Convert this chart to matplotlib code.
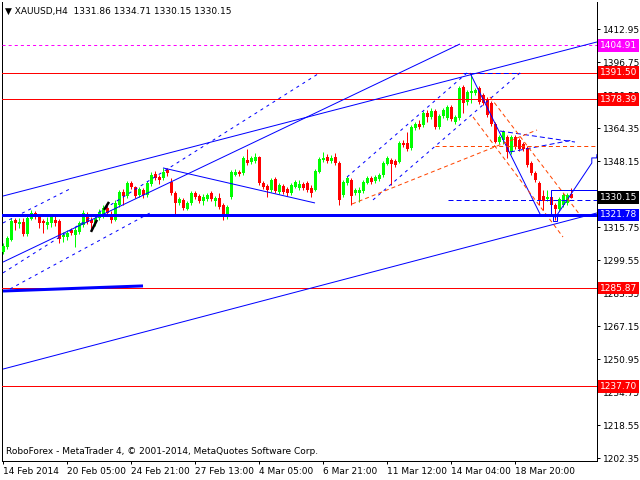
import matplotlib
matplotlib.use("Agg")
import matplotlib.pyplot as plt
from matplotlib.patches import Rectangle
from matplotlib.transforms import blended_transform_factory

# ---------------------------------------------------------------------------
# Data (XAUUSD H4 candles, bar index 0..142)
# ---------------------------------------------------------------------------
opens = [
    1303.5, 1306.0, 1309.4, 1319.2, 1317.5, 1318.3, 1312.4, 1319.7, 1322.7, 1320.7,
    1318.7, 1316.8, 1317.8, 1319.2, 1318.7, 1310.9, 1310.9, 1314.3, 1311.9, 1313.3,
    1316.8, 1322.2, 1319.2, 1317.8, 1320.2, 1321.7, 1325.1, 1322.2, 1319.2, 1326.6,
    1333.0, 1331.0, 1337.4, 1335.4, 1331.5, 1334.0, 1331.5, 1336.9, 1341.8, 1340.3,
    1339.9, 1343.8, 1337.9, 1332.5, 1327.6, 1329.1, 1324.6, 1327.6, 1332.5, 1331.0,
    1328.6, 1329.6, 1332.5, 1328.6, 1330.0, 1326.6, 1320.7, 1330.5, 1341.3, 1342.8,
    1342.3, 1348.7, 1347.7, 1348.2, 1350.1, 1337.4, 1335.9, 1334.0, 1339.4, 1333.0,
    1335.9, 1334.5, 1332.5, 1335.4, 1334.9, 1336.9, 1337.4, 1334.9, 1334.0, 1342.8,
    1348.7, 1350.1, 1348.2, 1350.1, 1347.2, 1331.5, 1337.4, 1338.9, 1332.5, 1332.5,
    1333.5, 1337.4, 1339.9, 1338.4, 1339.4, 1341.3, 1346.7, 1348.7, 1348.2, 1347.7,
    1357.0, 1357.0, 1354.6, 1364.4, 1366.4, 1365.9, 1371.7, 1369.8, 1372.7, 1364.9,
    1370.3, 1369.3, 1374.7, 1367.3, 1369.3, 1384.5, 1377.1, 1381.5, 1381.5, 1384.0,
    1380.6, 1378.6, 1376.6, 1366.4, 1357.5, 1358.5, 1360.0, 1352.6, 1360.0, 1358.5,
    1356.5, 1354.6, 1347.2, 1342.3, 1337.4, 1331.0, 1329.6, 1330.5, 1326.6, 1324.6,
    1326.6, 1327.6, 1331.86,
]
highs = [
    1308.0, 1311.4, 1320.2, 1320.2, 1320.2, 1320.2, 1322.2, 1324.2, 1323.7, 1321.7,
    1319.7, 1320.7, 1321.7, 1321.2, 1319.7, 1313.3, 1314.3, 1315.3, 1315.8, 1318.7,
    1324.2, 1323.2, 1320.7, 1321.7, 1324.7, 1326.6, 1326.6, 1323.7, 1329.1, 1334.0,
    1334.5, 1338.4, 1338.4, 1335.9, 1335.4, 1335.0, 1338.4, 1342.8, 1343.3, 1341.3,
    1344.8, 1344.8, 1339.9, 1333.5, 1330.6, 1330.0, 1328.6, 1333.5, 1333.5, 1332.0,
    1332.0, 1332.5, 1333.5, 1331.0, 1332.5, 1327.6, 1326.6, 1343.8, 1344.3, 1343.8,
    1350.6, 1354.1, 1350.6, 1352.1, 1350.6, 1338.4, 1336.9, 1339.9, 1340.3, 1337.4,
    1336.9, 1335.4, 1337.4, 1338.9, 1338.9, 1337.9, 1338.4, 1336.4, 1344.3, 1350.1,
    1352.6, 1351.6, 1351.1, 1352.1, 1348.2, 1338.9, 1340.8, 1339.9, 1335.0, 1335.4,
    1338.9, 1340.8, 1340.8, 1341.3, 1342.3, 1348.2, 1350.6, 1349.7, 1349.2, 1358.0,
    1358.5, 1362.4, 1365.9, 1367.3, 1368.3, 1372.7, 1373.2, 1374.2, 1373.7, 1371.3,
    1374.2, 1375.7, 1375.7, 1370.8, 1385.0, 1385.5, 1383.0, 1391.4, 1384.0, 1385.0,
    1381.5, 1379.6, 1377.6, 1367.3, 1361.0, 1363.4, 1361.0, 1361.0, 1361.0, 1359.5,
    1357.5, 1355.5, 1348.2, 1343.3, 1338.4, 1334.0, 1334.0, 1334.0, 1327.6, 1330.5,
    1332.5, 1332.5, 1334.71,
]
lows = [
    1302.6, 1305.0, 1308.9, 1314.3, 1315.3, 1311.4, 1311.4, 1319.2, 1319.7, 1315.3,
    1312.9, 1314.8, 1315.8, 1316.3, 1308.0, 1308.5, 1309.4, 1311.9, 1306.0, 1312.4,
    1315.8, 1317.3, 1314.3, 1316.3, 1319.2, 1320.2, 1321.2, 1317.8, 1318.7, 1325.6,
    1326.6, 1330.0, 1334.5, 1330.0, 1330.5, 1330.0, 1330.5, 1335.9, 1338.9, 1336.9,
    1338.9, 1340.8, 1331.5, 1321.7, 1326.6, 1324.2, 1324.2, 1326.6, 1329.6, 1327.6,
    1326.6, 1328.6, 1328.6, 1326.1, 1324.6, 1319.2, 1319.7, 1329.6, 1340.8, 1340.8,
    1341.3, 1346.2, 1346.7, 1347.2, 1336.4, 1334.5, 1330.5, 1333.0, 1332.5, 1332.0,
    1332.0, 1331.0, 1331.5, 1334.9, 1334.0, 1334.0, 1333.0, 1330.5, 1333.5, 1342.3,
    1347.7, 1347.2, 1347.2, 1346.2, 1326.6, 1330.5, 1336.4, 1326.6, 1331.5, 1328.1,
    1332.5, 1336.9, 1336.9, 1337.4, 1338.4, 1340.3, 1346.2, 1336.4, 1345.2, 1347.2,
    1355.0, 1353.1, 1353.6, 1363.4, 1363.9, 1364.9, 1367.3, 1368.8, 1363.9, 1363.9,
    1369.3, 1368.3, 1367.8, 1366.3, 1368.3, 1371.7, 1375.7, 1376.6, 1380.6, 1376.1,
    1375.7, 1369.8, 1365.4, 1357.0, 1356.5, 1356.5, 1349.7, 1351.6, 1354.1, 1353.1,
    1353.1, 1345.2, 1341.3, 1337.9, 1326.6, 1324.2, 1328.6, 1324.2, 1319.2, 1323.7,
    1325.6, 1326.6, 1330.15,
]
closes = [
    1306.5, 1310.4, 1318.7, 1317.8, 1318.3, 1312.4, 1320.2, 1322.7, 1321.2, 1317.8,
    1317.8, 1318.3, 1320.7, 1317.8, 1309.9, 1311.9, 1312.9, 1312.9, 1314.3, 1317.8,
    1322.7, 1318.3, 1317.8, 1320.2, 1323.2, 1325.1, 1322.7, 1319.2, 1327.6, 1333.0,
    1331.0, 1337.4, 1335.4, 1331.0, 1334.5, 1331.5, 1337.4, 1341.3, 1339.9, 1338.9,
    1342.8, 1342.3, 1332.5, 1327.6, 1329.6, 1325.1, 1327.6, 1332.5, 1330.5, 1328.6,
    1330.5, 1331.5, 1329.6, 1330.0, 1325.6, 1321.2, 1325.6, 1342.8, 1342.8, 1341.8,
    1349.7, 1347.2, 1349.7, 1350.1, 1337.4, 1335.4, 1334.0, 1338.9, 1333.5, 1336.4,
    1333.0, 1332.5, 1336.4, 1337.9, 1336.9, 1334.9, 1334.0, 1332.5, 1343.3, 1349.2,
    1349.7, 1348.2, 1349.7, 1347.2, 1329.1, 1337.9, 1339.9, 1331.0, 1334.0, 1334.0,
    1337.9, 1339.9, 1337.9, 1340.3, 1341.3, 1347.2, 1349.7, 1346.7, 1346.2, 1357.0,
    1356.0, 1354.1, 1364.9, 1366.4, 1364.9, 1371.7, 1369.8, 1372.7, 1364.9, 1370.3,
    1373.2, 1374.7, 1368.8, 1369.8, 1384.0, 1376.6, 1382.0, 1382.5, 1383.0, 1377.1,
    1376.6, 1370.8, 1366.4, 1357.5, 1360.0, 1362.4, 1352.6, 1360.0, 1355.1, 1354.1,
    1354.1, 1346.2, 1342.3, 1338.9, 1329.1, 1328.6, 1330.5, 1326.6, 1324.6, 1329.6,
    1331.5, 1331.5, 1330.15,
]

time_ticks = [0, 16, 32, 48, 64, 80, 96, 112, 128]
time_labels = [
    "14 Feb 2014", "20 Feb 05:00", "24 Feb 21:00", "27 Feb 13:00", "4 Mar 05:00",
    "6 Mar 21:00", "11 Mar 12:00", "14 Mar 04:00", "18 Mar 20:00",
]
price_ticks = [1412.95, 1396.75, 1380.55, 1364.35, 1348.15, 1331.95, 1315.75,
               1299.55, 1283.35, 1267.15, 1250.95, 1234.75, 1218.55, 1202.35]

# horizontal levels with their axis tags
levels = [1404.91, 1391.50, 1378.39, 1330.15, 1321.78, 1285.87, 1237.70]
level_colors = ["#ff00ff", "#ff0000", "#ff0000", "#000000", "#0000ff", "#ff0000", "#ff0000"]

# trend lines as (bar index, price) points
channel_top = [(0, 1331.0), (148.5, 1406.6)]
channel_mid = [(0, 1298.6), (114.25, 1405.6)]
channel_low = [(0, 1246.1), (148.5, 1322.7)]
fall_line = [(40, 1344.8), (78, 1327.6)]
drop_leg = [(116.75, 1391.4), (134.5, 1321.2)]
projection = [(138, 1320.2), (147.2, 1347.2), (147.2, 1349.7), (148.4, 1349.7), (148.5, 1351.6)]
support_stub = [(0, 1284.4), (35, 1286.9)]

dot_a = [(0, 1317.8), (16.75, 1334.5)]
dot_b = [(0, 1293.3), (78.75, 1390.9)]
dot_c = [(1.75, 1285.4), (36.75, 1322.7)]
dot_d = [(86, 1340.3), (116, 1391.4)]
dot_e = [(92.5, 1329.1), (129.25, 1391.4)]
peak_dash = [(115, 1391.4), (129.25, 1391.4)]
bid_dash = [(111.25, 1329.1), (148.5, 1329.1)]
tri_top = [(124.25, 1362.9), (143, 1357.5)]
tri_bottom = [(126.75, 1352.6), (142.5, 1358.5)]

orange_flat = [(108, 1355.7), (148.5, 1355.7)]
orange_rise = [(87.25, 1327.1), (133.5, 1363.4)]
orange_fall1 = [(117.5, 1369.8), (140, 1310.9)]
orange_fall2 = [(121.75, 1379.6), (144.25, 1321.7)]

black_marks = [[(22, 1313.4), (23.5, 1319.3)], [(25.25, 1324.2), (26.5, 1328.1)]]

# ---------------------------------------------------------------------------
# Style
# ---------------------------------------------------------------------------
plt.rcParams.update({
    "font.family": "DejaVu Sans",
    "font.size": 6.5,
    "lines.scale_dashes": False,
})

BLUE = "#0000ff"
ORANGE = "#ff4500"
PX = 0.72  # one pixel in points at 100 dpi

fig = plt.figure(figsize=(6.4, 4.8), dpi=100)
ax = fig.add_axes([2 / 640, 19 / 480, 595 / 640, 459 / 480])
ax.set_xlim(-0.25, 148.5)
ax.set_ylim(1201.0, 1426.2)


def draw(points, color=BLUE, lw=PX, ls="-", z=4):
    xs = [p[0] for p in points]
    ys = [p[1] for p in points]
    ax.plot(xs, ys, color=color, linewidth=lw, linestyle=ls,
            solid_capstyle="butt", dash_capstyle="butt", zorder=z)


# candles
idx = list(range(len(opens)))
cols = ["#00ff00" if c >= o else "#ff0000" for o, c in zip(opens, closes)]
bottoms = [min(o, c) for o, c in zip(opens, closes)]
heights = [max(abs(c - o), 0.5) for o, c in zip(opens, closes)]
ax.vlines(idx, lows, highs, colors=cols, linewidth=PX, zorder=2)
ax.bar(idx, heights, bottom=bottoms, width=0.75, color=cols, linewidth=0, zorder=3)

# horizontal levels
DOT = (0, (2.2, 2.2))
DASH = (0, (3.6, 2.2))
SPARSE = (0, (2.2, 2.9))
ODASH = (0, (2.9, 2.2))

ax.axhline(levels[0], color=level_colors[0], linewidth=PX, linestyle=DOT, zorder=4)
for lv in (levels[1], levels[2], levels[5], levels[6]):
    ax.axhline(lv, color="#ff0000", linewidth=PX, zorder=4)
ax.axhline(levels[4], color=BLUE, linewidth=3 * PX, zorder=5)

# solid trend lines
for seg in (channel_top, channel_mid, channel_low, fall_line, drop_leg, projection):
    draw(seg)
draw(support_stub, lw=3 * PX)

# dotted / dashed blue lines
for seg in (dot_a, dot_b, dot_c, dot_d, dot_e):
    draw(seg, ls=SPARSE)
for seg in (peak_dash, bid_dash, tri_top, tri_bottom):
    draw(seg, ls=DASH)

# orange dashed lines
for seg in (orange_flat, orange_rise, orange_fall1, orange_fall2):
    draw(seg, color=ORANGE, ls=ODASH)

for seg in black_marks:
    draw(seg, color="black", lw=2.5 * PX, z=6)

# rectangle and low marker
ax.add_patch(Rectangle((137, 1321.8), 15, 12.2, fill=False, edgecolor=BLUE,
                       linewidth=PX, zorder=4))
ax.add_patch(Rectangle((137.5, 1318.8), 1, 2.4, fill=False, edgecolor=BLUE,
                       linewidth=PX, zorder=6))

# axes and ticks
for side in ("top",):
    ax.spines[side].set_visible(False)
for side in ("left", "right", "bottom"):
    ax.spines[side].set_linewidth(PX)

ax.yaxis.tick_right()
ax.set_yticks(price_ticks)
ax.set_yticklabels([f"{v:.2f}" for v in price_ticks])
ax.tick_params(axis="y", direction="out", length=2.5, width=PX, pad=1.5, labelsize=6.5)

ax.set_xticks(time_ticks)
ax.set_xticklabels(time_labels)
for lbl in ax.get_xticklabels():
    lbl.set_horizontalalignment("left")
ax.tick_params(axis="x", direction="out", length=2.5, width=PX, pad=1.5, labelsize=6.5)

# price tags on the axis
tag_tf = blended_transform_factory(ax.transAxes, ax.transData)
for lv, col in zip(levels, level_colors):
    ax.text(1 + 3 / 595, lv, f"{lv:.2f}", transform=tag_tf, ha="left", va="center",
            color="white", fontsize=6.5, zorder=10, clip_on=False,
            bbox=dict(boxstyle="square,pad=0.2", fc=col, ec="none"))

fig.text(5 / 640, 1 - 11 / 480, "\u25bc XAUUSD,H4  1331.86 1334.71 1330.15 1330.15",
         fontsize=6.5, va="center", ha="left")
fig.text(6 / 640, 1 - 452 / 480,
         "RoboForex - MetaTrader 4, \u00a9 2001-2014, MetaQuotes Software Corp.",
         fontsize=6.5, va="center", ha="left")

fig.savefig("out.png", dpi=100, facecolor="white")
plt.close(fig)
